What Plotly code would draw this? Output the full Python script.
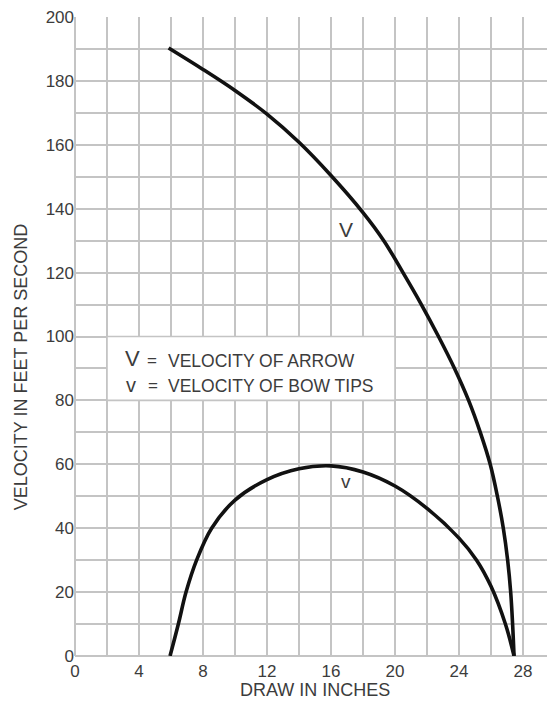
"""
Arrow and bow-tip velocity against draw length.
"""
import plotly.graph_objects as go

# Velocity of arrow (V), feet per second, by draw in inches
arrow_draw = [5.85, 8, 10, 12, 14, 16, 18, 19.3, 20.5, 21.65, 22.72, 23.72, 24.6,
              25.33, 25.95, 26.4, 26.77, 27.04, 27.23, 27.35, 27.44]
arrow_velocity = [190.3, 183.6, 177, 169.6, 160.8, 150.4, 138.8, 130, 120, 110, 100, 90, 80,
                  70, 60, 50, 40, 30, 20, 10, 0]

# Velocity of bow tips (v)
tip_draw = [5.94, 6.46, 6.94, 7.6, 8.54, 10, 12, 14, 16, 18, 20, 22, 24, 25.1, 26, 26.9, 27.44]
tip_velocity = [0, 10, 20, 30, 40, 48.8, 55.2, 58.6, 59.5, 57.6, 53.2, 46.2, 36.9, 30, 21.8, 10, 0]

x_ticks = [0, 4, 8, 12, 16, 20, 24, 28]
y_ticks = [0, 20, 40, 60, 80, 100, 120, 140, 160, 180, 200]

FONT = "Liberation Sans, Arial, sans-serif"
GRID = "#c4c4c4"
TEXT = "#3c3c3c"


def create_velocity_chart() -> go.Figure:
    fig = go.Figure()

    for x, y in [(arrow_draw, arrow_velocity), (tip_draw, tip_velocity)]:
        fig.add_trace(
            go.Scatter(
                x=x,
                y=y,
                mode="lines",
                line=dict(color="#111111", width=3.6, shape="spline", smoothing=1.0),
                showlegend=False,
                hoverinfo="skip",
            )
        )

    # white key box sits on top of the grid
    fig.add_shape(
        type="rect", x0=2, x1=20, y0=80, y1=100,
        fillcolor="white", line=dict(color=GRID, width=1.6),
        layer="between",
    )

    labels = [
        # text, x, y, size, anchor
        ("V", 3.59, 93.0, 22, "center"),
        ("=", 4.84, 92.6, 17, "center"),
        ("VELOCITY OF ARROW", 5.66, 92.4, 17.5, "left"),
        ("v", 3.47, 84.9, 20, "center"),
        ("=", 4.86, 84.6, 17, "center"),
        ("VELOCITY OF BOW TIPS", 5.66, 84.4, 17.5, "left"),
        ("V", 16.94, 133.6, 21, "center"),
        ("v", 16.92, 54.6, 19, "center"),
    ]
    for text, x, y, size, anchor in labels:
        fig.add_annotation(
            text=text, x=x, y=y, xref="x", yref="y",
            xanchor=anchor, yanchor="middle", showarrow=False,
            font=dict(family=FONT, size=size, color=TEXT),
        )

    # axis titles placed by hand
    fig.add_annotation(
        text="VELOCITY IN FEET PER SECOND", textangle=-90,
        x=-0.1125, y=0.452, xref="paper", yref="paper",
        xanchor="center", yanchor="middle", showarrow=False,
        font=dict(family=FONT, size=18, color=TEXT),
    )
    fig.add_annotation(
        text="DRAW IN INCHES",
        x=0.5, y=-0.053, xref="paper", yref="paper",
        xanchor="center", yanchor="middle", showarrow=False,
        font=dict(family=FONT, size=18, color=TEXT),
    )

    axis_common = dict(
        showgrid=True, gridcolor=GRID, gridwidth=1.6,
        zeroline=True, zerolinecolor=GRID, zerolinewidth=1.6,
        showline=False, ticks="", ticklabeloverflow="allow",
        tickfont=dict(family=FONT, size=17, color=TEXT),
    )
    fig.update_xaxes(
        range=[0, 30], tickvals=x_ticks, ticklabelstandoff=3,
        minor=dict(dtick=2, tick0=0, showgrid=True, gridcolor=GRID, gridwidth=1.6),
        **axis_common,
    )
    fig.update_yaxes(
        range=[0, 200], tickvals=y_ticks,
        minor=dict(dtick=10, tick0=0, showgrid=True, gridcolor=GRID, gridwidth=1.6),
        **axis_common,
    )

    # page body keeps its default 8px margin, so the figure is 8px smaller
    fig.update_layout(
        width=547,
        height=694,
        margin=dict(l=67, r=0, t=7, b=46),
        plot_bgcolor="white",
        paper_bgcolor="white",
        showlegend=False,
    )
    return fig


fig = create_velocity_chart()
fig.write_html("out.html")
